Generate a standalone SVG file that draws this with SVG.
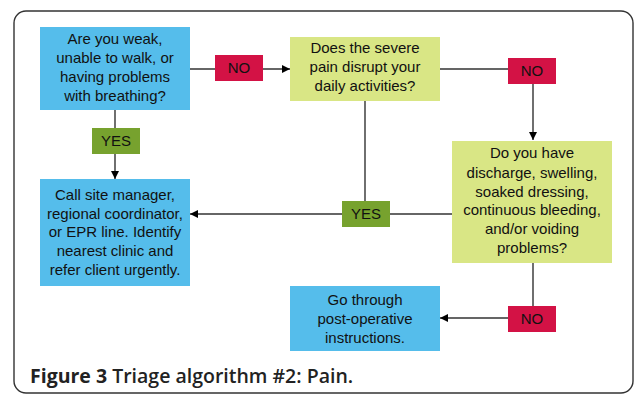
<svg xmlns="http://www.w3.org/2000/svg" width="635" height="395" viewBox="0 0 635 395">
<defs>
<marker id="ah" viewBox="0 0 10 10" refX="10" refY="5" markerWidth="8" markerHeight="8" markerUnits="userSpaceOnUse" orient="auto">
<path d="M0,0 L10,5 L0,10 z" fill="#000"/>
</marker>
<style>
.t{font-family:"Liberation Sans",Arial,sans-serif;font-size:15px;fill:#111;text-anchor:middle}
.blue{fill:#55BDEB}
.lime{fill:#D9E685}
.no{fill:#D31245}
.yes{fill:#77A22E}
.ln{stroke:#333;stroke-width:1.4;fill:none}
.cap{font-family:"Open Sans","Noto Sans",sans-serif;font-size:19.5px;fill:#222;font-weight:600}
</style>
</defs>
<rect x="14" y="11" width="619" height="382" rx="12" fill="#fff" stroke="#333" stroke-width="1.4"/>
<g id="connectors">
<path class="ln" d="M190,69 L290,69" marker-end="url(#ah)"/>
<path class="ln" d="M440,69 L533,69 L533,140" marker-end="url(#ah)"/>
<path class="ln" d="M115,110 L115,179" marker-end="url(#ah)"/>
<path class="ln" d="M365,101 L365,214"/>
<path class="ln" d="M452,214 L190,214" marker-end="url(#ah)"/>
<path class="ln" d="M533,263 L533,318 L440,318" marker-end="url(#ah)"/>
</g>
<g id="q1">
<rect class="blue" x="40" y="27" width="150" height="83"/>
<text class="t" x="115" y="44">Are you weak,</text>
<text class="t" x="115" y="63">unable to walk, or</text>
<text class="t" x="115" y="82">having problems</text>
<text class="t" x="115" y="101">with breathing?</text>
</g>
<g id="q2">
<rect class="lime" x="290" y="37" width="150" height="64"/>
<text class="t" x="365" y="53">Does the severe</text>
<text class="t" x="365" y="72">pain disrupt your</text>
<text class="t" x="365" y="91">daily activities?</text>
</g>
<g id="q3">
<rect class="lime" x="452" y="141" width="160" height="122"/>
<text class="t" x="532" y="158">Do you have</text>
<text class="t" x="532" y="178">discharge, swelling,</text>
<text class="t" x="532" y="197">soaked dressing,</text>
<text class="t" x="532" y="215">continuous bleeding,</text>
<text class="t" x="532" y="234">and/or voiding</text>
<text class="t" x="532" y="253">problems?</text>
</g>
<g id="a1">
<rect class="blue" x="40" y="179" width="150" height="107"/>
<text class="t" x="115" y="200">Call site manager,</text>
<text class="t" x="115" y="219">regional coordinator,</text>
<text class="t" x="115" y="237">or EPR line. Identify</text>
<text class="t" x="115" y="256">nearest clinic and</text>
<text class="t" x="115" y="275">refer client urgently.</text>
</g>
<g id="a2">
<rect class="blue" x="290" y="286" width="150" height="65"/>
<text class="t" x="365" y="305">Go through</text>
<text class="t" x="365" y="324">post-operative</text>
<text class="t" x="365" y="343">instructions.</text>
</g>
<g id="no1"><rect class="no" x="215" y="55" width="48" height="26"/><text class="t" x="239" y="73">NO</text></g>
<g id="no2"><rect class="no" x="508" y="58" width="48" height="26"/><text class="t" x="532" y="76">NO</text></g>
<g id="no3"><rect class="no" x="508" y="306" width="48" height="26"/><text class="t" x="532" y="324">NO</text></g>
<g id="yes1"><rect class="yes" x="92" y="128" width="48" height="26"/><text class="t" x="116" y="146">YES</text></g>
<g id="yes2"><rect class="yes" x="342" y="201" width="48" height="26"/><text class="t" x="366" y="219">YES</text></g>
<text class="cap" x="30" y="383"><tspan font-weight="700">Figure 3</tspan> Triage algorithm #2: Pain.</text>
</svg>
